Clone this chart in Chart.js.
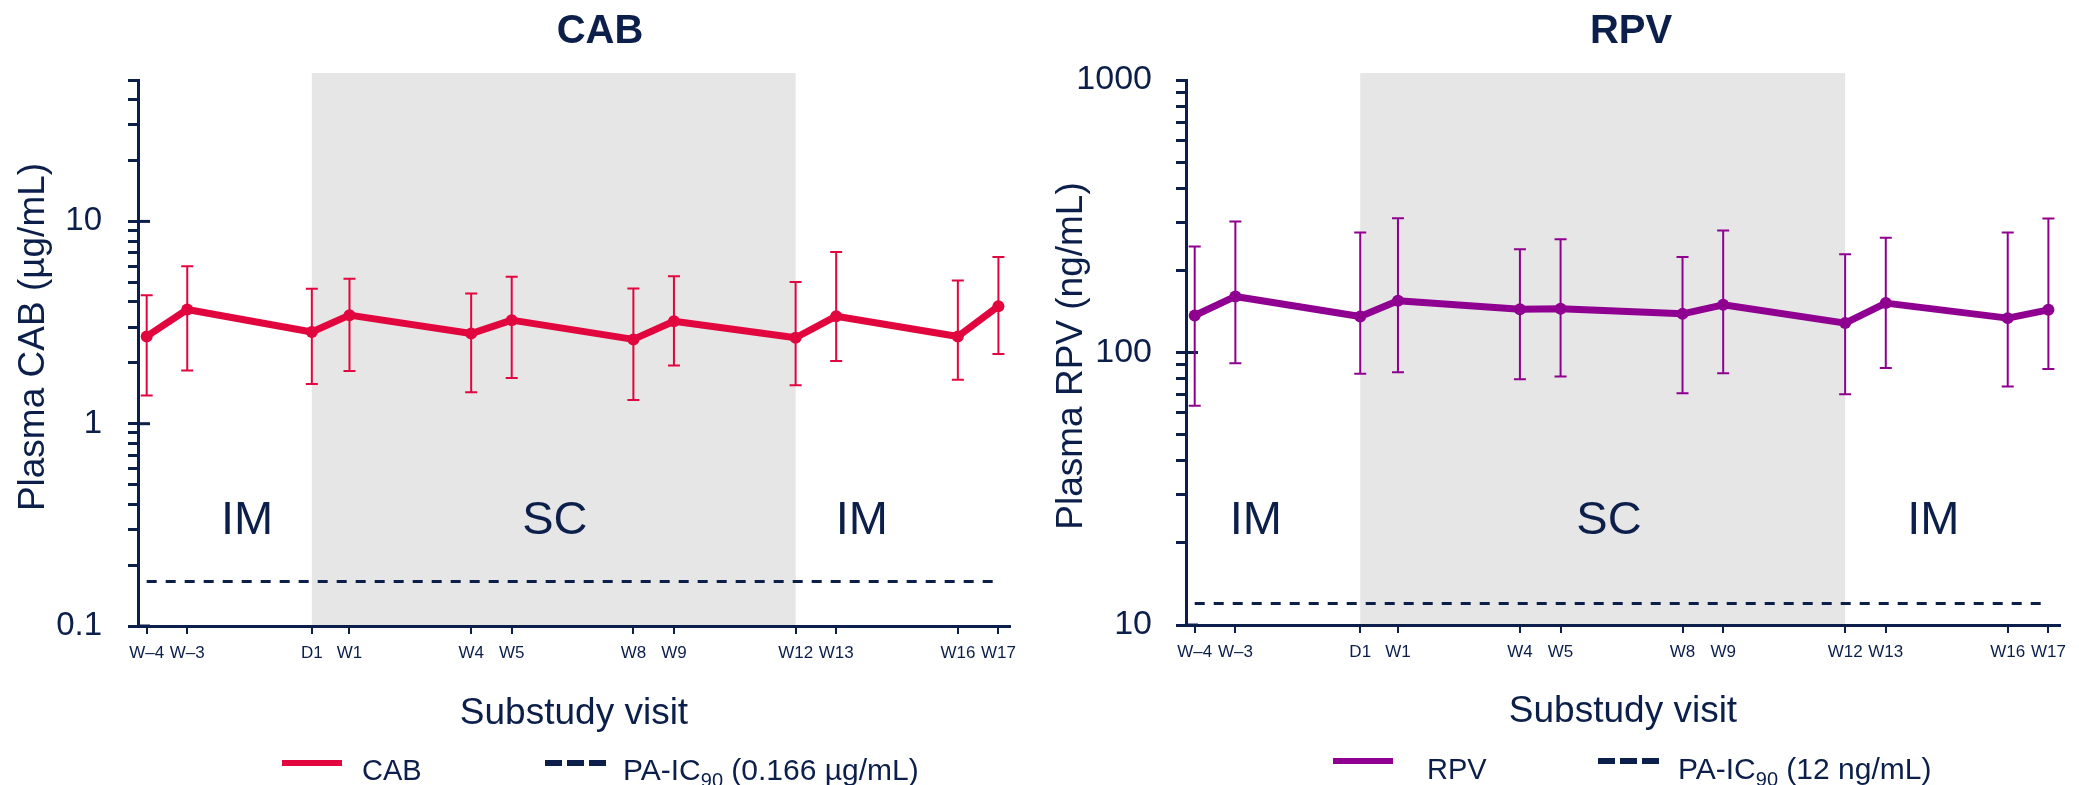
<!DOCTYPE html>
<html>
<head>
<meta charset="utf-8">
<script src="https://cdn.jsdelivr.net/npm/chart.js@4.4.1/dist/chart.umd.min.js"></script>
<style>
html,body{margin:0;padding:0;background:#ffffff;}
#wrap{position:relative;width:2079px;height:785px;overflow:hidden;background:#fff;}
#c1{position:absolute;left:0;top:0;}
#c2{position:absolute;left:1040px;top:0;}
</style>
</head>
<body>
<div id="wrap">
<canvas id="c1" width="1040" height="785"></canvas>
<canvas id="c2" width="1039" height="785"></canvas>
</div>
<script>
// ---------------- DATA ----------------
const visitLabels = ['W\u20134','W\u20133','D1','W1','W4','W5','W8','W9','W12','W13','W16','W17'];
const visitDays   = [-28, -21, 0.5, 7, 28, 35, 56, 63, 84, 91, 112, 119];

const cabMean  = [2.70, 3.67, 2.84, 3.44, 2.79, 3.25, 2.61, 3.21, 2.66, 3.40, 2.70, 3.81];
const cabUpper = [4.32, 6.01, 4.64, 5.20, 4.40, 5.32, 4.66, 5.36, 5.01, 7.05, 5.10, 6.66];
const cabLower = [1.38, 1.83, 1.57, 1.82, 1.43, 1.68, 1.31, 1.94, 1.55, 2.04, 1.65, 2.21];

const rpvMean  = [136.7, 160.6, 135.5, 154.9, 144.2, 144.6, 138.6, 149.6, 128.2, 151.8, 133.7, 143.4];
const rpvUpper = [244.9, 302.5, 275.5, 311.0, 239.5, 260.5, 224.0, 280.5, 229.6, 263.5, 275.5, 310.1];
const rpvLower = [63.7, 91.4, 83.5, 84.7, 79.8, 81.7, 70.9, 84.0, 70.3, 87.7, 75.0, 86.9];

const cabIC90 = 0.166;
const rpvIC90 = 12;

const cabTickValues = [0.1,0.2,0.3,0.4,0.5,0.6,0.7,0.8,0.9,1,2,3,4,5,6,7,8,9,10,20,30,40,50];
const cabTickLabels = ['0.1','','','','','','','','','1','','','','','','','','','10','','','',''];
const rpvTickValues = [10,20,30,40,50,60,70,80,90,100,200,300,400,500,600,700,800,900,1000];
const rpvTickLabels = ['10','','','','','','','','','100','','','','','','','','','1000'];

const regionLabels = ['IM', 'SC', 'IM'];
const shadeFromVisit = 'D1';
const shadeToVisit = 'W12';

const cabTitle = 'CAB';
const rpvTitle = 'RPV';
const cabYTitle = 'Plasma CAB (\u00b5g/mL)';
const rpvYTitle = 'Plasma RPV (ng/mL)';
const xTitle = 'Substudy visit';
const cabLegend = ['CAB', 'PA-IC', '90', ' (0.166 \u00b5g/mL)'];
const rpvLegend = ['RPV', 'PA-IC', '90', ' (12 ng/mL)'];

// ---------------- STYLE ----------------
const NAVY = '#0c1f4a';
const GRAY = '#e6e6e6';
const FONT = "'Liberation Sans', Arial, sans-serif";
const X_MIN = -29.5, X_MAX = 121;

function makeDecor(spec) {
  return {
    id: 'decor_' + spec.id,
    beforeDraw(chart) {
      const {ctx, chartArea: ca, scales: {x}} = chart;
      const x0 = x.getPixelForValue(visitDays[visitLabels.indexOf(shadeFromVisit)]);
      const x1 = x.getPixelForValue(visitDays[visitLabels.indexOf(shadeToVisit)]);
      ctx.save();
      ctx.fillStyle = GRAY;
      ctx.fillRect(x0, ca.top - 7, x1 - x0, ca.bottom - ca.top + 7);
      ctx.restore();
    },
    beforeDatasetsDraw(chart) {
      const {ctx, chartArea: ca, scales: {x, y}} = chart;
      ctx.save();
      // inner part of major ticks
      ctx.strokeStyle = NAVY; ctx.lineWidth = 3;
      spec.tickValues.forEach((v, i) => {
        if (spec.tickLabels[i] !== '' && v !== spec.yMax) {
          const py = y.getPixelForValue(v);
          ctx.beginPath(); ctx.moveTo(ca.left, py); ctx.lineTo(ca.left + 12, py); ctx.stroke();
        }
      });
      // region labels
      ctx.fillStyle = NAVY;
      ctx.font = '47px ' + FONT;
      ctx.textAlign = 'center'; ctx.textBaseline = 'alphabetic';
      regionLabels.forEach((t, i) => {
        const px = ca.left + spec.regionFx[i] * (ca.right - ca.left);
        const py = ca.top + spec.regionFy * (ca.bottom - ca.top);
        ctx.fillText(t, px, py);
      });
      // error bars
      ctx.strokeStyle = spec.color; ctx.lineWidth = 2;
      visitDays.forEach((d, i) => {
        const px = x.getPixelForValue(d);
        const yt = y.getPixelForValue(spec.upper[i]);
        const yb = y.getPixelForValue(spec.lower[i]);
        ctx.beginPath();
        ctx.moveTo(px, yt); ctx.lineTo(px, yb);
        ctx.moveTo(px - 6, yt); ctx.lineTo(px + 6, yt);
        ctx.moveTo(px - 6, yb); ctx.lineTo(px + 6, yb);
        ctx.stroke();
      });
      ctx.restore();
    },
    afterDraw(chart) {
      const {ctx} = chart;
      ctx.save();
      ctx.fillStyle = NAVY;
      // chart title
      ctx.font = 'bold 40px ' + FONT;
      ctx.textAlign = 'center'; ctx.textBaseline = 'alphabetic';
      ctx.fillText(spec.title, spec.titleX, 43);
      // y-axis title
      ctx.save();
      ctx.translate(spec.yTitleX, spec.yTitleY);
      ctx.rotate(-Math.PI / 2);
      ctx.font = '37px ' + FONT;
      ctx.fillText(spec.yTitle, 0, 0);
      ctx.restore();
      // legend
      const L = spec.legend;
      ctx.strokeStyle = spec.color; ctx.lineWidth = 6;
      ctx.beginPath(); ctx.moveTo(L.lineX, L.lineY); ctx.lineTo(L.lineX + 60, L.lineY); ctx.stroke();
      ctx.strokeStyle = NAVY; ctx.setLineDash([17, 5]);
      ctx.beginPath(); ctx.moveTo(L.dashX, L.lineY); ctx.lineTo(L.dashX + 61, L.lineY); ctx.stroke();
      ctx.setLineDash([]);
      ctx.textAlign = 'left';
      ctx.font = '29px ' + FONT;
      ctx.fillText(spec.legendText[0], L.nameX, L.baseY);
      let tx = L.icX;
      ctx.font = '30px ' + FONT;
      ctx.fillText(spec.legendText[1], tx, L.baseY);
      tx += ctx.measureText(spec.legendText[1]).width;
      ctx.font = '20px ' + FONT;
      ctx.fillText(spec.legendText[2], tx, L.baseY + 7);
      tx += ctx.measureText(spec.legendText[2]).width;
      ctx.font = '30px ' + FONT;
      ctx.fillText(spec.legendText[3], tx, L.baseY);
      ctx.restore();
    }
  };
}

function makeChart(canvasId, spec) {
  const pts = visitDays.map((d, i) => ({x: d, y: spec.mean[i]}));
  const icLine = [{x: visitDays[0], y: spec.ic90}, {x: visitDays[visitDays.length - 1], y: spec.ic90}];
  const labelMap = new Map(spec.tickValues.map((v, i) => [v, spec.tickLabels[i]]));
  return new Chart(document.getElementById(canvasId), {
    type: 'line',
    data: {
      datasets: [
        {label: spec.legendText[0], data: pts, borderColor: spec.color, backgroundColor: spec.color,
         borderWidth: 7, pointRadius: 6, pointHoverRadius: 6, pointBorderWidth: 0,
         pointBackgroundColor: spec.color, tension: 0, order: 0, borderJoinStyle: 'round'},
        {label: 'PA-IC90', data: icLine, borderColor: NAVY, borderWidth: 3, borderDash: [10, 9],
         pointRadius: 0, pointHoverRadius: 0, order: 1, fill: false}
      ]
    },
    options: {
      responsive: false, animation: false, devicePixelRatio: 1,
      events: [],
      layout: {padding: spec.padding},
      plugins: {legend: {display: false}, title: {display: false}, tooltip: {enabled: false}},
      scales: {
        x: {
          type: 'linear', min: X_MIN, max: X_MAX,
          afterBuildTicks: s => { s.ticks = visitDays.map(v => ({value: v})); },
          afterFit: s => { s.height = spec.xAxisHeight; },
          ticks: {autoSkip: false, maxRotation: 0, minRotation: 0, padding: 9, color: NAVY,
                  font: {family: FONT, size: 17},
                  callback: (v, i) => visitLabels[i]},
          grid: {display: true, drawOnChartArea: false, drawTicks: true, tickLength: 8,
                 tickWidth: 2, lineWidth: 2, tickColor: NAVY, color: NAVY},
          border: {display: true, color: NAVY, width: 3},
          title: {display: true, text: xTitle, color: NAVY, font: {family: FONT, size: 37},
                  padding: {top: 0, bottom: spec.xTitlePad}}
        },
        y: {
          type: 'logarithmic', min: spec.yMin, max: spec.yMax,
          afterBuildTicks: s => { s.ticks = spec.tickValues.map(v => ({value: v})); },
          afterFit: s => { s.width = spec.yAxisWidth; },
          ticks: {autoSkip: false, padding: spec.yTickPad, color: NAVY,
                  font: {family: FONT, size: spec.yTickSize},
                  callback: v => (labelMap.has(v) ? labelMap.get(v) : '')},
          grid: {display: true, drawOnChartArea: false, drawTicks: true, tickLength: 10,
                 tickWidth: 3, lineWidth: 3, tickColor: NAVY, color: NAVY},
          border: {display: true, color: NAVY, width: 3}
        }
      }
    },
    plugins: [makeDecor(spec)]
  });
}

makeChart('c1', {
  id: 'cab', color: '#e2063f', mean: cabMean, upper: cabUpper, lower: cabLower, ic90: cabIC90,
  tickValues: cabTickValues, tickLabels: cabTickLabels, yMin: 0.1, yMax: 50,
  padding: {top: 80, right: 30, bottom: 39, left: 0},
  yAxisWidth: 138, xAxisHeight: 120, xTitlePad: 10, yTickPad: 26, yTickSize: 33,
  title: cabTitle, titleX: 600, yTitle: cabYTitle, yTitleX: 44, yTitleY: 337,
  regionFx: [0.125, 0.478, 0.830], regionFy: 0.8315,
  legendText: cabLegend,
  legend: {lineX: 282, lineY: 763, nameX: 362, dashX: 545, icX: 623, baseY: 780}
});

makeChart('c2', {
  id: 'rpv', color: '#8f0091', mean: rpvMean, upper: rpvUpper, lower: rpvLower, ic90: rpvIC90,
  tickValues: rpvTickValues, tickLabels: rpvTickLabels, yMin: 10, yMax: 1000,
  padding: {top: 80, right: 19, bottom: 40, left: 0},
  yAxisWidth: 146, xAxisHeight: 120, xTitlePad: 11, yTickPad: 24, yTickSize: 34,
  title: rpvTitle, titleX: 591, yTitle: rpvYTitle, yTitleX: 42, yTitleY: 356,
  regionFx: [0.080, 0.484, 0.855], regionFy: 0.833,
  legendText: rpvLegend,
  legend: {lineX: 293, lineY: 761, nameX: 387, dashX: 558, icX: 638, baseY: 779}
});
</script>
</body>
</html>
